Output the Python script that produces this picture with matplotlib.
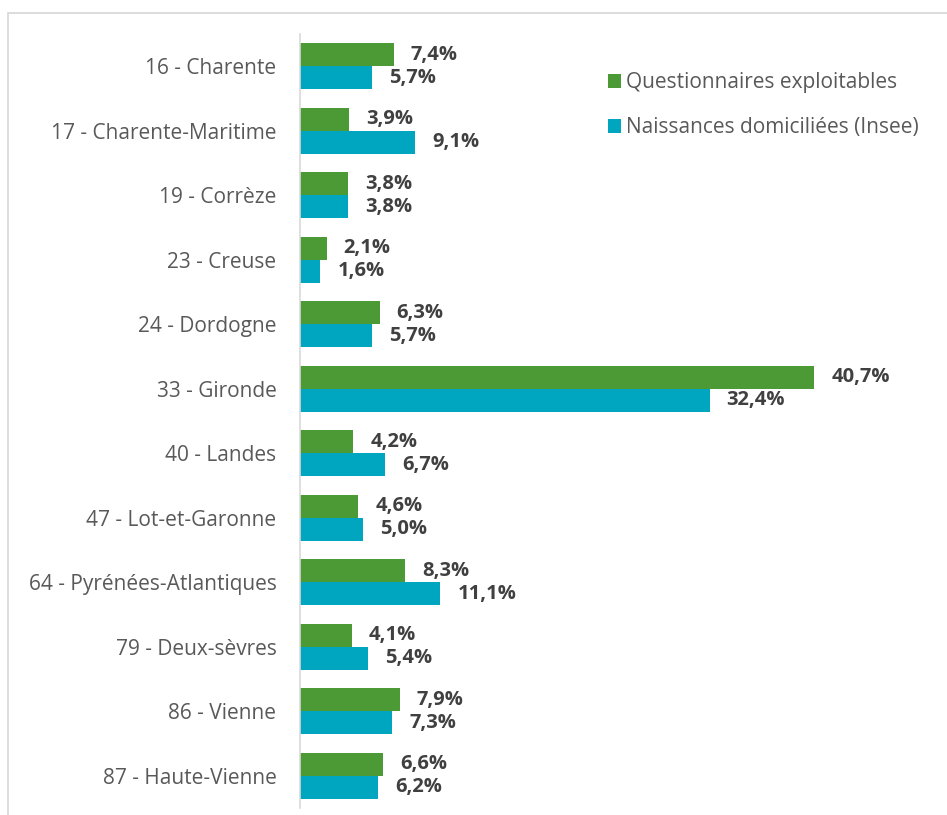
import matplotlib
matplotlib.use("Agg")
import matplotlib.pyplot as plt
from matplotlib.patches import Rectangle
import numpy as np

categories = ["16 - Charente", "17 - Charente-Maritime", "19 - Corrèze", "23 - Creuse",
              "24 - Dordogne", "33 - Gironde", "40 - Landes", "47 - Lot-et-Garonne",
              "64 - Pyrénées-Atlantiques", "79 - Deux-sèvres", "86 - Vienne", "87 - Haute-Vienne"]
questionnaires = [7.4, 3.9, 3.8, 2.1, 6.3, 40.7, 4.2, 4.6, 8.3, 4.1, 7.9, 6.6]
naissances = [5.7, 9.1, 3.8, 1.6, 5.7, 32.4, 6.7, 5.0, 11.1, 5.4, 7.3, 6.2]
series_names = ["Questionnaires exploitables", "Naissances domiciliées (Insee)"]

green = "#4C9A36"
blue = "#00A6C0"
txt = "#404040"
lab = "#595959"

plt.rcParams['font.family'] = ['Open Sans', 'DejaVu Sans']

W, H = 947, 815
fig = plt.figure(figsize=(W/100, H/100), dpi=100)
# border
fig.patches.append(Rectangle((8/W, -0.1), 1.2, (H-13)/H + 0.1, transform=fig.transFigure,
                             fill=False, edgecolor="#d9d9d9", linewidth=1.3))

ax = fig.add_axes([300/W, 1 - 808/H, (932-300)/W, (808-34)/H])
n = len(categories)
y = np.arange(n)
h = 0.36
ax.barh(y - h/2, questionnaires, height=h, color=green, label=series_names[0])
ax.barh(y + h/2, naissances, height=h, color=blue, label=series_names[1])
for i in range(n):
    ax.text(questionnaires[i] + 1.35, y[i] - h/2, f"{questionnaires[i]:.1f}%".replace(".", ","),
            va="center", ha="left", fontsize=14.5, fontweight="bold", color=txt)
    ax.text(naissances[i] + 1.35, y[i] + h/2, f"{naissances[i]:.1f}%".replace(".", ","),
            va="center", ha="left", fontsize=14.5, fontweight="bold", color=txt)

ax.set_ylim(n - 0.5, -0.5)
ax.set_xlim(0, 50)
ax.set_yticks(y)
ax.set_yticklabels(categories, fontsize=15, color=lab)
ax.tick_params(axis="y", length=0, pad=17)
ax.set_xticks([])
for s in ["top", "right", "bottom"]:
    ax.spines[s].set_visible(False)
ax.spines["left"].set_color("#d9d9d9")
ax.spines["left"].set_linewidth(1.2)

leg = ax.legend(loc="upper left", bbox_to_anchor=((600-300)/(932-300), 1 - (64-34)/(808-34)),
                frameon=False, fontsize=15, handlelength=0.6, handleheight=0.6,
                handletextpad=0.25, labelspacing=1.15, borderaxespad=0)
for t in leg.get_texts():
    t.set_color(lab)

fig.savefig("out.png", dpi=100)
